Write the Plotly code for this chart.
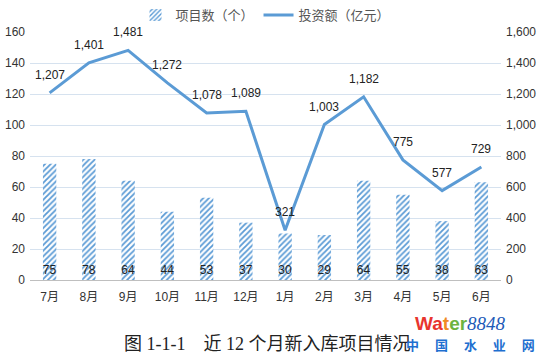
import plotly.graph_objects as go

months = ["7月", "8月", "9月", "10月", "11月", "12月", "1月", "2月", "3月", "4月", "5月", "6月"]
projects = [75, 78, 64, 44, 53, 37, 30, 29, 64, 55, 38, 63]
invest = [1207, 1401, 1481, 1272, 1078, 1089, 321, 1003, 1182, 775, 577, 729]
left_ticks = [0, 20, 40, 60, 80, 100, 120, 140, 160]
right_ticks = [0, 200, 400, 600, 800, 1000, 1200, 1400, 1600]

blue = "#5B9BD5"
font_fam = "Liberation Sans, Noto Sans CJK SC"

fig = go.Figure()
fig.add_trace(go.Bar(
    x=months, y=projects, name="项目数（个）",
    marker=dict(color="white", line=dict(width=0),
                pattern=dict(shape="/", fgcolor=blue, bgcolor="white", size=4, solidity=0.45)),
    text=[str(v) for v in projects], textposition="inside", insidetextanchor="start",
    constraintext="none",
    textfont=dict(size=12, color="#222222", family=font_fam),
    textangle=0, cliponaxis=False,
))
fig.add_trace(go.Scatter(
    x=months, y=invest, name="投资额（亿元）", yaxis="y2", mode="lines",
    line=dict(color=blue, width=3),
    cliponaxis=False,
))
for m, v in zip(months, invest):
    fig.add_annotation(x=m, y=v, xref="x", yref="y2", text=f"{v:,}", showarrow=False,
                       yshift=18, font=dict(size=12, color="#222222", family=font_fam))

fig.update_layout(
    template="none",
    width=539, height=357,
    margin=dict(l=30, r=38, t=32, b=77),
    paper_bgcolor="white", plot_bgcolor="white",
    font=dict(family=font_fam, size=12, color="#333333"),
    bargap=0.66,
    showlegend=True,
    legend=dict(orientation="h", x=0.5, xanchor="center", y=1.0, yanchor="top",
                yref="container", font=dict(size=13, color="#555555"), bgcolor="rgba(0,0,0,0)",
                itemwidth=30),
    xaxis=dict(showline=False, ticks="", showgrid=False, automargin=False,
               tickfont=dict(size=12, color="#333333"), ticklabelstandoff=8),
    yaxis=dict(range=[0, 160], tickvals=left_ticks, showgrid=True, gridcolor="#D6E2EF",
               zeroline=True, zerolinecolor="#BFBFBF", zerolinewidth=1, automargin=False,
               showline=False, tickfont=dict(size=12, color="#333333"), ticks="", ticklabelstandoff=4),
    yaxis2=dict(range=[0, 1600], tickvals=right_ticks, overlaying="y", side="right",
                showgrid=False, zeroline=False, tickformat=",d", automargin=False,
                showline=False, ticks="",
                tickfont=dict(size=12, color="#333333"), ticklabelstandoff=4),
)

fig.add_annotation(
    text="图 1-1-1　近 12 个月新入库项目情况", xref="paper", yref="paper",
    x=0.505, y=-0.21, xanchor="center", yanchor="top", showarrow=False,
    font=dict(family="Liberation Serif, Noto Sans CJK SC", size=18, color="#222222"),
)
fig.add_annotation(
    text="<b><span style='color:#E8352E'>Wa</span><span style='color:#F08A24'>t</span><span style='color:#6DB33F'>er</span></b><i><span style='color:#1E5BB8;font-family:Liberation Serif'>8848</span></i>",
    xref="paper", yref="paper", x=0.915, y=-0.125, xanchor="center", yanchor="top",
    showarrow=False, font=dict(family="Liberation Sans", size=19),
)
fig.add_annotation(
    text="<b>中 　国 　水 　业 　网</b>", xref="paper", yref="paper", x=0.935, y=-0.215,
    xanchor="center", yanchor="top", showarrow=False,
    font=dict(family="Noto Sans CJK SC", size=13, color="#1E6FD0"),
)

fig.write_html("out.html", config={"displayModeBar": False},
               post_script="document.body.style.margin='0';document.body.style.padding='0';")
